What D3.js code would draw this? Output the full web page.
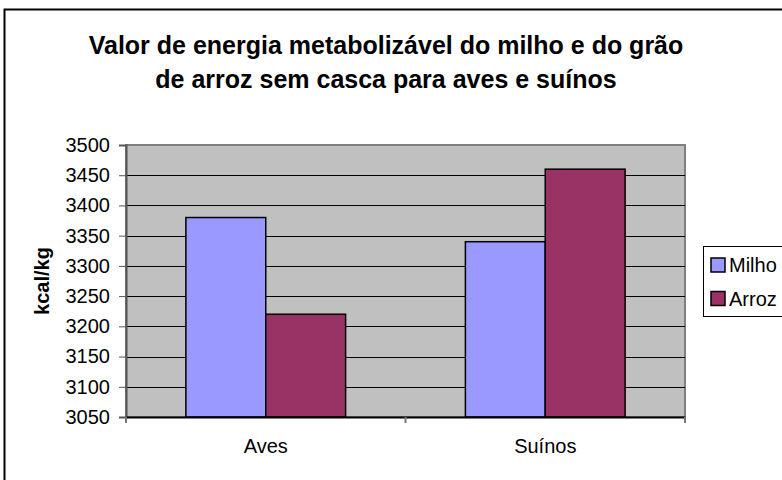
<!DOCTYPE html>
<html>
<head>
<meta charset="utf-8">
<script src="https://cdn.jsdelivr.net/npm/d3@7"></script>
<style>
  body { margin: 0; background: #fff; }
  svg { display: block; font-family: "Liberation Sans", Arial, sans-serif; }
</style>
</head>
<body>
<svg id="chart" width="782" height="480"></svg>
<script>
// data
var categories = ['Aves', 'Suínos'];
var seriesNames = ['Milho', 'Arroz'];
var milho = [3380, 3340];
var arroz = [3220, 3460];
var yTicks = [3050, 3100, 3150, 3200, 3250, 3300, 3350, 3400, 3450, 3500];
var colors = ['#9999FF', '#993366'];

var svg = d3.select('#chart');
var plotL = 126, plotR = 685, plotT = 145, plotB = 417;
var font = '"Liberation Sans", Arial, sans-serif';

// outer frame (cut by the window on right/bottom)
svg.append('rect')
  .attr('x', 4.5).attr('y', 9.5)
  .attr('width', 790).attr('height', 490)
  .attr('fill', '#fff').attr('stroke', '#000').attr('stroke-width', 2);

// title
var title = svg.append('text')
  .attr('text-anchor', 'middle')
  .attr('font-weight', 'bold')
  .attr('font-size', 25);
title.append('tspan').attr('x', 386).attr('y', 54).text('Valor de energia metabolizável do milho e do grão');
title.append('tspan').attr('x', 386).attr('y', 88).text('de arroz sem casca para aves e suínos');

var x0 = d3.scaleBand().domain(categories).range([plotL, plotR]).paddingInner(0).paddingOuter(0);
var x1 = d3.scaleBand().domain(seriesNames).range([0, x0.bandwidth()]).paddingInner(0).paddingOuter(0.75);
var y = d3.scaleLinear().domain([3050, 3500]).range([plotB, plotT]);

// plot area
svg.append('rect')
  .attr('x', plotL).attr('y', plotT)
  .attr('width', plotR - plotL).attr('height', plotB - plotT)
  .attr('fill', '#C0C0C0').attr('stroke', '#808080').attr('stroke-width', 2);

// gridlines
svg.append('g').selectAll('line')
  .data(yTicks.slice(1, -1))
  .enter().append('line')
  .attr('x1', plotL).attr('x2', plotR)
  .attr('y1', function(d){ return Math.round(y(d)) + 0.5; })
  .attr('y2', function(d){ return Math.round(y(d)) + 0.5; })
  .attr('stroke', '#000').attr('stroke-width', 1);

// bars
var rows = categories.map(function(c, i){ return { cat: c, values: [milho[i], arroz[i]] }; });
svg.append('g').selectAll('g')
  .data(rows)
  .enter().append('g')
  .attr('transform', function(d){ return 'translate(' + x0(d.cat) + ',0)'; })
  .selectAll('rect')
  .data(function(d){ return d.values.map(function(v, j){ return { name: seriesNames[j], v: v, c: colors[j] }; }); })
  .enter().append('rect')
  .attr('x', function(d){ return x1(d.name); })
  .attr('width', x1.bandwidth())
  .attr('y', function(d){ return y(d.v); })
  .attr('height', function(d){ return plotB - y(d.v); })
  .attr('fill', function(d){ return d.c; })
  .attr('stroke', '#000').attr('stroke-width', 1.5);

// y axis
var yAxis = d3.axisLeft(y).tickValues(yTicks).tickFormat(d3.format('d')).tickSize(7).tickPadding(9);
var gy = svg.append('g').attr('transform', 'translate(' + plotL + ',0)').call(yAxis);
gy.select('.domain').attr('stroke', '#555').attr('stroke-width', 2);
gy.selectAll('.tick line').attr('stroke', '#555');
gy.selectAll('text').attr('font-size', 20).attr('fill', '#000').attr('font-family', font);

// x axis
var xAxis = d3.axisBottom(x0).tickSize(0).tickPadding(22);
var gx = svg.append('g').attr('transform', 'translate(0,' + plotB + ')').call(xAxis);
gx.select('.domain').attr('stroke', '#000').attr('stroke-width', 2);
gx.selectAll('text').attr('font-size', 20).attr('fill', '#000').attr('font-family', font);
svg.append('g').selectAll('line')
  .data([plotL, x0(categories[1]), plotR])
  .enter().append('line')
  .attr('x1', function(d){ return d; }).attr('x2', function(d){ return d; })
  .attr('y1', plotB).attr('y2', plotB + 6)
  .attr('stroke', '#777').attr('stroke-width', 2);

// y axis title
svg.append('text')
  .attr('transform', 'translate(49,' + ((plotT + plotB) / 2) + ') rotate(-90)')
  .attr('text-anchor', 'middle')
  .attr('font-weight', 'bold').attr('font-size', 20)
  .text('kcal/kg');

// legend
var lg = svg.append('g');
lg.append('rect')
  .attr('x', 703.5).attr('y', 246.5).attr('width', 90).attr('height', 70)
  .attr('fill', '#fff').attr('stroke', '#000').attr('stroke-width', 1);
var item = lg.selectAll('g.item')
  .data(seriesNames)
  .enter().append('g').attr('class', 'item')
  .attr('transform', function(d, i){ return 'translate(711,' + (258 + i * 33.5) + ')'; });
item.append('rect')
  .attr('width', 14).attr('height', 14)
  .attr('fill', function(d, i){ return colors[i]; })
  .attr('stroke', '#000').attr('stroke-width', 1.5);
item.append('text')
  .attr('x', 18).attr('y', 14)
  .attr('font-size', 20)
  .text(function(d){ return d; });
</script>
</body>
</html>
